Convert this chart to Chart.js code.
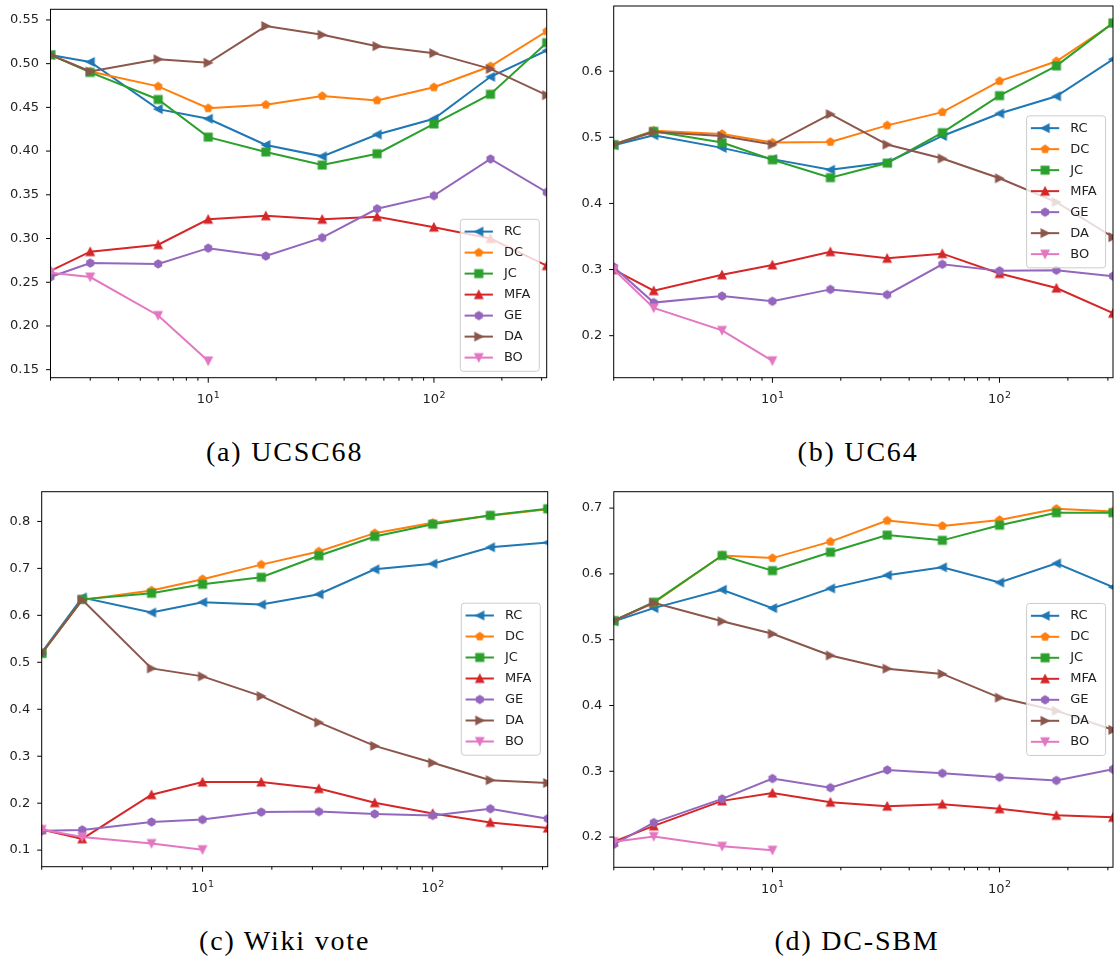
<!DOCTYPE html>
<html>
<head>
<meta charset="utf-8">
<title>Link prediction results</title>
<script src="https://cdn.jsdelivr.net/npm/chart.js@4.4.1/dist/chart.umd.min.js"></script>
<style>
    html, body { margin: 0; padding: 0; background: #fff; }
    #page { position: relative; width: 1119px; height: 958px; overflow: hidden; }
    #page canvas { position: absolute; }
    .caption {
        position: absolute;
        width: 400px;
        text-align: center;
        font-family: "Liberation Serif", serif;
        font-size: 28px;
        line-height: 28px;
        letter-spacing: 1.8px;
        color: #000;
        white-space: nowrap;
    }
</style>
</head>
<body>
<div id="page"></div>
<script>
// Shared x positions (log axis) and method names
const xValues = [2, 3, 6, 10, 18, 32, 56, 100, 178, 316];
const methods = ['RC', 'DC', 'JC', 'MFA', 'GE', 'DA', 'BO'];

// One row per method, same order as `methods`
const ucsc68 = [
    [0.510, 0.502, 0.448, 0.437, 0.407, 0.394, 0.419, 0.437, 0.485, 0.515],
    [0.510, 0.491, 0.474, 0.449, 0.453, 0.463, 0.458, 0.473, 0.497, 0.537],
    [0.510, 0.490, 0.459, 0.416, 0.399, 0.384, 0.397, 0.431, 0.465, 0.524],
    [0.263, 0.285, 0.293, 0.322, 0.326, 0.322, 0.325, 0.313, 0.300, 0.269],
    [0.256, 0.272, 0.271, 0.289, 0.280, 0.301, 0.334, 0.349, 0.391, 0.353],
    [0.510, 0.491, 0.505, 0.501, 0.543, 0.533, 0.520, 0.512, 0.494, 0.464],
    [0.261, 0.256, 0.212, 0.160]
];

const uc64 = [
    [0.488, 0.503, 0.484, 0.467, 0.451, 0.462, 0.502, 0.536, 0.562, 0.618],
    [0.489, 0.510, 0.505, 0.492, 0.493, 0.518, 0.538, 0.585, 0.615, 0.672],
    [0.489, 0.509, 0.492, 0.466, 0.439, 0.461, 0.507, 0.563, 0.608, 0.673],
    [0.300, 0.268, 0.292, 0.307, 0.327, 0.317, 0.324, 0.294, 0.272, 0.234],
    [0.304, 0.250, 0.260, 0.252, 0.270, 0.262, 0.308, 0.298, 0.299, 0.290],
    [0.489, 0.508, 0.502, 0.489, 0.535, 0.489, 0.468, 0.438, 0.402, 0.349],
    [0.300, 0.242, 0.208, 0.162]
];

const wikiVote = [
    [0.521, 0.638, 0.606, 0.628, 0.623, 0.645, 0.698, 0.710, 0.745, 0.755],
    [0.519, 0.633, 0.653, 0.677, 0.708, 0.736, 0.775, 0.797, 0.812, 0.826],
    [0.519, 0.634, 0.647, 0.666, 0.681, 0.727, 0.768, 0.794, 0.813, 0.827],
    [0.144, 0.124, 0.218, 0.245, 0.245, 0.231, 0.201, 0.178, 0.159, 0.147],
    [0.141, 0.143, 0.160, 0.165, 0.181, 0.182, 0.177, 0.174, 0.188, 0.167],
    [0.519, 0.633, 0.487, 0.470, 0.428, 0.372, 0.322, 0.286, 0.249, 0.243],
    [0.144, 0.128, 0.114, 0.101]
];

const dcSbm = [
    [0.528, 0.548, 0.576, 0.548, 0.578, 0.598, 0.610, 0.587, 0.616, 0.580],
    [0.529, 0.556, 0.628, 0.624, 0.649, 0.681, 0.673, 0.682, 0.699, 0.695],
    [0.529, 0.557, 0.628, 0.605, 0.633, 0.659, 0.651, 0.674, 0.693, 0.693],
    [0.193, 0.217, 0.255, 0.267, 0.253, 0.247, 0.250, 0.243, 0.233, 0.230],
    [0.189, 0.222, 0.258, 0.289, 0.275, 0.302, 0.297, 0.291, 0.286, 0.303],
    [0.529, 0.556, 0.528, 0.509, 0.476, 0.456, 0.448, 0.412, 0.392, 0.363],
    [0.193, 0.201, 0.186, 0.180]
];

// Tick values and labels
const yTicksA = [0.15, 0.20, 0.25, 0.30, 0.35, 0.40, 0.45, 0.50, 0.55];
const yTicksB = [0.2, 0.3, 0.4, 0.5, 0.6];
const yTicksC = [0.1, 0.2, 0.3, 0.4, 0.5, 0.6, 0.7, 0.8];
const yTicksD = [0.2, 0.3, 0.4, 0.5, 0.6, 0.7];
const xTicks = [2, 3, 4, 5, 6, 7, 8, 9, 10, 20, 30, 40, 50, 60, 70, 80, 90, 100, 200, 300];
const xMajorTicks = [10, 100];
const xMajorBase = ['10', '10'];
const xMajorExp = ['1', '2'];
const captions = ['(a) UCSC68', '(b) UC64', '(c) Wiki vote', '(d) DC-SBM'];

// Styles
const colors = ['#1f77b4', '#ff7f0e', '#2ca02c', '#d62728', '#9467bd', '#8c564b', '#e377c2'];
const markerShapes = ['left', 'pentagon', 'square', 'up', 'hexagon', 'right', 'down'];
const textColor = '#222';
const tickFont = '"DejaVu Sans", sans-serif';

Chart.defaults.font.family = tickFont;
Chart.defaults.font.size = 13;

// Matplotlib-like marker glyphs
function markerPath(ctx, shape, cx, cy, r) {
    ctx.beginPath();
    if (shape === 'square') {
        ctx.rect(cx - r, cy - r, 2 * r, 2 * r);
        return;
    }
    if (shape === 'pentagon' || shape === 'hexagon') {
        const n = shape === 'pentagon' ? 5 : 6;
        for (let k = 0; k < n; k++) {
            const ang = -Math.PI / 2 + k * 2 * Math.PI / n;
            const px = cx + r * Math.cos(ang), py = cy + r * Math.sin(ang);
            if (k === 0) ctx.moveTo(px, py); else ctx.lineTo(px, py);
        }
        ctx.closePath();
        return;
    }
    const tri = {
        up: [[0, -1], [-1, 1], [1, 1]],
        down: [[0, 1], [-1, -1], [1, -1]],
        left: [[-1, 0], [1, -1], [1, 1]],
        right: [[1, 0], [-1, -1], [-1, 1]]
    }[shape];
    tri.forEach((p, k) => {
        if (k === 0) ctx.moveTo(cx + p[0] * r, cy + p[1] * r);
        else ctx.lineTo(cx + p[0] * r, cy + p[1] * r);
    });
    ctx.closePath();
}

const markerSize = 14;
const markerImages = markerShapes.map((shape, i) => {
    const c = document.createElement('canvas');
    c.width = markerSize; c.height = markerSize;
    const g = c.getContext('2d');
    markerPath(g, shape, markerSize / 2, markerSize / 2, 3.9);
    g.fillStyle = colors[i];
    g.strokeStyle = colors[i];
    g.lineWidth = 1.3;
    g.lineJoin = 'miter';
    g.fill();
    g.stroke();
    return c;
});

// Box around the axes, outward tick marks and the 10^n labels
const framePlugin = {
    id: 'mplFrame',
    afterDraw(chart) {
        const { ctx, chartArea: ca, scales } = chart;
        ctx.save();
        ctx.strokeStyle = '#000';
        ctx.lineWidth = 1;
        ctx.strokeRect(ca.left, ca.top, ca.right - ca.left, ca.bottom - ca.top);
        ctx.beginPath();
        scales.y.ticks.forEach(t => {
            const py = scales.y.getPixelForValue(t.value);
            ctx.moveTo(ca.left - 4.5, py);
            ctx.lineTo(ca.left, py);
        });
        scales.x.ticks.forEach(t => {
            const px = scales.x.getPixelForValue(t.value);
            const len = xMajorTicks.includes(t.value) ? 5 : 3;
            ctx.moveTo(px, ca.bottom);
            ctx.lineTo(px, ca.bottom + len);
        });
        ctx.stroke();

        // major x labels with a raised exponent
        ctx.fillStyle = textColor;
        ctx.textBaseline = 'alphabetic';
        ctx.textAlign = 'left';
        xMajorTicks.forEach((v, k) => {
            const px = scales.x.getPixelForValue(v);
            const base = ca.bottom + 25.3;
            ctx.font = '13px ' + tickFont;
            const w1 = ctx.measureText(xMajorBase[k]).width;
            ctx.font = '9.5px ' + tickFont;
            const w2 = ctx.measureText(xMajorExp[k]).width;
            const x0 = px - (w1 + w2 + 0.5) / 2;
            ctx.font = '13px ' + tickFont;
            ctx.fillText(xMajorBase[k], x0, base);
            ctx.font = '9.5px ' + tickFont;
            ctx.fillText(xMajorExp[k], x0 + w1 + 0.5, base - 5.2);
        });
        ctx.restore();
    }
};

// Legend drawn inside the axes, matplotlib style
const legendPlugin = {
    id: 'mplLegend',
    afterDraw(chart, args, opts) {
        const { ctx, chartArea: ca } = chart;
        const w = 79, h = 152;
        const x0 = ca.right - 7.4 - w;
        const y0 = opts.loc === 'lower right' ? ca.bottom - 6.4 - h : (ca.top + ca.bottom) / 2 - h / 2;
        ctx.save();
        ctx.beginPath();
        ctx.roundRect(x0, y0, w, h, 3);
        ctx.fillStyle = 'rgba(255,255,255,0.8)';
        ctx.fill();
        ctx.strokeStyle = '#cccccc';
        ctx.lineWidth = 1;
        ctx.stroke();
        methods.forEach((name, i) => {
            const cy = y0 + 12.3 + i * 21;
            ctx.beginPath();
            ctx.moveTo(x0 + 4.3, cy);
            ctx.lineTo(x0 + 32.6, cy);
            ctx.strokeStyle = colors[i];
            ctx.lineWidth = 2;
            ctx.stroke();
            ctx.drawImage(markerImages[i], x0 + 18.5 - markerSize / 2, cy - markerSize / 2);
            ctx.fillStyle = textColor;
            ctx.font = '13px ' + tickFont;
            ctx.textBaseline = 'middle';
            ctx.textAlign = 'left';
            ctx.fillText(name, x0 + 43.6, cy);
        });
        ctx.restore();
    }
};

// Page placement of each panel (canvas box and plot area in page pixels)
const panels = [
    { data: ucsc68, yTicks: yTicksA, decimals: 2, legend: 'lower right',
      canvas: { left: 0, top: 0, width: 560, height: 430 },
      area: { left: 50.5, top: 9.3, right: 546.7, bottom: 377.7 },
      caption: { center: 284.6, top: 438.3 } },
    { data: uc64, yTicks: yTicksB, decimals: 1, legend: 'center right',
      canvas: { left: 560, top: 0, width: 559, height: 430 },
      area: { left: 613.7, top: 2.5, right: 1118, bottom: 377.7 },
      caption: { center: 858, top: 438.3 } },
    { data: wikiVote, yTicks: yTicksC, decimals: 1, legend: 'center right',
      canvas: { left: 0, top: 480, width: 560, height: 430 },
      area: { left: 41.7, top: 491.7, right: 547.7, bottom: 866.7 },
      caption: { center: 284.6, top: 927.3 } },
    { data: dcSbm, yTicks: yTicksD, decimals: 1, legend: 'center right',
      canvas: { left: 560, top: 480, width: 559, height: 430 },
      area: { left: 613.8, top: 491.7, right: 1118, bottom: 867.3 },
      caption: { center: 857, top: 927.3 } }
];

const page = document.getElementById('page');

function noScalePadding(s) {
    s.paddingTop = 0;
    s.paddingBottom = 0;
    s.paddingLeft = 0;
    s.paddingRight = 0;
}

function buildPanel(p, captionText) {
    const cv = document.createElement('canvas');
    cv.width = p.canvas.width;
    cv.height = p.canvas.height;
    cv.style.left = p.canvas.left + 'px';
    cv.style.top = p.canvas.top + 'px';
    page.appendChild(cv);

    // plot area relative to the canvas
    const a = {
        left: p.area.left - p.canvas.left,
        top: p.area.top - p.canvas.top,
        right: p.area.right - p.canvas.left,
        bottom: p.area.bottom - p.canvas.top
    };

    // matplotlib autoscale: data range plus 5% margins
    const all = p.data.flat();
    const lo = Math.min(...all), hi = Math.max(...all);
    const margin = (hi - lo) * 0.05;

    const cap = document.createElement('div');
    cap.className = 'caption';
    cap.textContent = captionText;
    cap.style.left = (p.caption.center - 200) + 'px';
    cap.style.top = p.caption.top + 'px';
    page.appendChild(cap);

    return new Chart(cv, {
        type: 'line',
        data: {
            datasets: methods.map((name, i) => ({
                label: name,
                data: p.data[i].map((v, j) => ({ x: xValues[j], y: v })),
                borderColor: colors[i],
                backgroundColor: colors[i],
                borderWidth: 2,
                pointStyle: markerImages[i],
                pointRadius: 4,
                pointHoverRadius: 4,
                tension: 0,
                fill: false,
                order: methods.length - 1 - i
            }))
        },
        options: {
            responsive: false,
            animation: false,
            events: [],
            layout: { padding: { top: a.top, right: cv.width - a.right, left: 0, bottom: 0 } },
            plugins: {
                legend: { display: false },
                tooltip: { enabled: false },
                mplLegend: { loc: p.legend }
            },
            scales: {
                x: {
                    type: 'logarithmic',
                    min: xValues[0],
                    max: xValues[xValues.length - 1],
                    afterBuildTicks: s => { s.ticks = xTicks.map(v => ({ value: v })); },
                    afterFit: s => {
                        s.height = cv.height - a.bottom;
                        noScalePadding(s);
                    },
                    grid: { display: false, drawTicks: false },
                    border: { display: false },
                    ticks: { display: false }
                },
                y: {
                    type: 'linear',
                    min: lo - margin,
                    max: hi + margin,
                    afterBuildTicks: s => { s.ticks = p.yTicks.map(v => ({ value: v })); },
                    afterFit: s => {
                        s.width = a.left;
                        noScalePadding(s);
                    },
                    grid: { display: false, drawTicks: false },
                    border: { display: false },
                    ticks: {
                        padding: 11.5,
                        color: textColor,
                        callback: v => Number(v).toFixed(p.decimals)
                    }
                }
            }
        },
        plugins: [framePlugin, legendPlugin]
    });
}

panels.forEach((p, i) => buildPanel(p, captions[i]));
</script>
</body>
</html>
